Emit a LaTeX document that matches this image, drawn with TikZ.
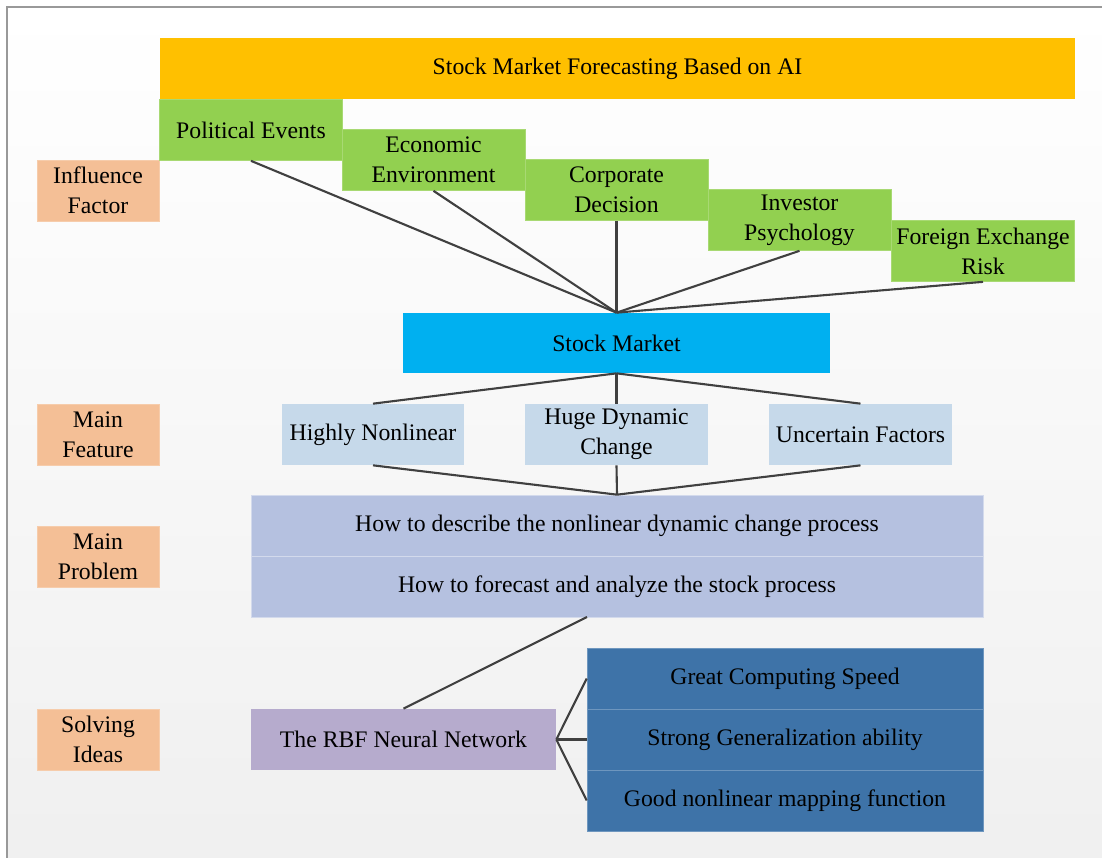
\documentclass[tikz,border=0pt]{standalone}
\usepackage{fontspec}
\setmainfont{Liberation Serif}
\newfontfamily\timesface{Liberation Serif}
\definecolor{titleorange}{HTML}{FFC000}
\definecolor{factorgreen}{HTML}{92D050}
\definecolor{labelpeach}{HTML}{F4BF96}
\definecolor{marketblue}{HTML}{00B0F0}
\definecolor{featureblue}{HTML}{C6D9EA}
\definecolor{problemblue}{HTML}{B5C1E0}
\definecolor{rbfpurple}{HTML}{B6ABCD}
\definecolor{abilityblue}{HTML}{3E73A8}
\definecolor{linkgray}{HTML}{404040}
\begin{document}
\begin{tikzpicture}[x=0.02cm,y=-0.02cm,font=\timesface\fontsize{13.5}{17}\selectfont,
	box/.style={inner sep=0pt,align=center,minimum height=1.22cm,minimum width=3.66cm},
	factor/.style={box,fill=factorgreen,draw=factorgreen!80!white},
	sidelabel/.style={box,fill=labelpeach,minimum width=2.44cm,draw=labelpeach!80!white},
	feature/.style={box,fill=featureblue},
	problem/.style={box,fill=problemblue,minimum width=14.64cm,draw=problemblue!60!white},
	ability/.style={box,fill=abilityblue,minimum width=7.92cm,draw=abilityblue!75!white},
	link/.style={linkgray,line width=1.2pt}]
	\useasboundingbox (0,0) rectangle (1102,858);
	% background and frame
	\shade[top color=white,bottom color=black!6] (7,7) rectangle (1102,858);
	\draw[black!40,line width=1.6pt] (7,858) -- (7,7) -- (1102,7);
	% title
	\node[box,fill=titleorange,minimum width=18.3cm] (title) at (617.5,68.5) {Stock Market Forecasting Based on AI};
	% influence factors
	\node[sidelabel] (inflabel) at (98,190.5) {Influence\\Factor};
	\node[factor] (political) at (251,130) {Political Events};
	\node[factor] (economic) at (433.5,160) {Economic\\Environment};
	\node[factor] (corporate) at (616.5,190) {Corporate\\Decision};
	\node[factor] (investor) at (799.5,220) {Investor\\Psychology};
	\node[factor] (foreign) at (983,251) {Foreign Exchange\\Risk};
	% stock market
	\node[box,fill=marketblue,minimum width=8.54cm,minimum height=1.2cm] (market) at (616.5,343) {Stock Market};
	\foreach \f in {political,economic,corporate,investor,foreign}
		\draw[link] (\f.south) -- (market.north);
	% main features
	\node[sidelabel] (featlabel) at (98,434.5) {Main\\Feature};
	\node[feature] (nonlinear) at (373,434.5) {Highly Nonlinear};
	\node[feature] (dynamic) at (616.5,434.5) {Huge Dynamic\\Change};
	\node[feature] (uncertain) at (860.5,434.5) {Uncertain Factors};
	% main problem
	\node[sidelabel] (problabel) at (98,556.5) {Main\\Problem};
	\node[problem] (describe) at (617,525.5) {How to describe the nonlinear dynamic change process};
	\node[problem] (forecast) at (617,586.5) {How to forecast and analyze the stock process};
	\foreach \f in {nonlinear,dynamic,uncertain}{
		\draw[link] (market.south) -- (\f.north);
		\draw[link] (\f.south) -- (describe.north);
	}
	% solving ideas
	\node[sidelabel] (sollabel) at (98,739.5) {Solving\\Ideas};
	\node[box,fill=rbfpurple,minimum width=6.1cm] (rbf) at (403.5,739.5) {The RBF Neural Network};
	\node[ability] (speed) at (785,678.5) {Great Computing Speed};
	\node[ability] (general) at (785,739.5) {Strong Generalization ability};
	\node[ability] (mapping) at (785,800.5) {Good nonlinear mapping function};
	\coordinate (fcout) at (587,617);
	\draw[link] (fcout) -- (rbf.north);
	\foreach \a in {speed,general,mapping}
		\draw[link] (rbf.east) -- (\a.west);
\end{tikzpicture}
\end{document}
